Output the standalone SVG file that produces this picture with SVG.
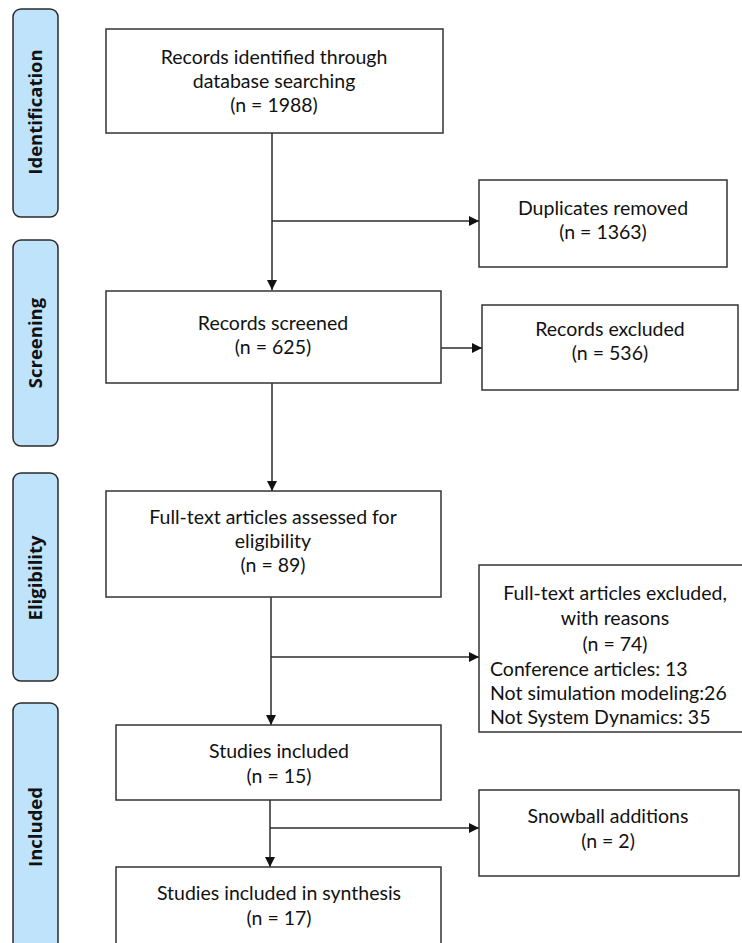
<svg xmlns="http://www.w3.org/2000/svg" width="742" height="943" viewBox="0 0 742 943">
<style>
.stage{fill:#bfe3fb;stroke:#2b2b2b;stroke-width:1.5}
.stxt{font-family:"Open Sans","DejaVu Sans",sans-serif;font-weight:bold;font-size:18.5px;fill:#111;text-anchor:middle}
.box{fill:#fff;stroke:#333;stroke-width:1.5}
.t{font-family:Lato,"Liberation Sans",sans-serif;font-size:19.5px;fill:#111;text-anchor:middle}
.tl{font-family:Lato,"Liberation Sans",sans-serif;font-size:19.5px;fill:#111}
.ln{stroke:#2b2b2b;stroke-width:1.5;fill:none}
</style>
<defs>
<marker id="ah" markerWidth="10" markerHeight="10" refX="10" refY="5" orient="auto" markerUnits="userSpaceOnUse">
<path d="M0,0 L10,5 L0,10 z" fill="#111"/>
</marker>
</defs>
<rect width="742" height="943" fill="#fff"/>
<g id="stage-identification"><rect class="stage" x="13" y="9" width="45" height="208" rx="8"/><text class="stxt" transform="translate(42,112) rotate(-90)">Identification</text></g>
<g id="stage-screening"><rect class="stage" x="13" y="240" width="45" height="206" rx="8"/><text class="stxt" transform="translate(42,343) rotate(-90)">Screening</text></g>
<g id="stage-eligibility"><rect class="stage" x="13" y="473" width="45" height="208" rx="8"/><text class="stxt" transform="translate(42,578) rotate(-90)">Eligibility</text></g>
<g id="stage-included"><rect class="stage" x="13" y="703" width="45" height="260" rx="8"/><text class="stxt" transform="translate(42,827) rotate(-90)">Included</text></g>

<g id="connectors">
<line class="ln" x1="272" y1="133" x2="272" y2="290" marker-end="url(#ah)"/>
<line class="ln" x1="272" y1="221" x2="479" y2="221" marker-end="url(#ah)"/>
<line class="ln" x1="272" y1="383" x2="272" y2="491" marker-end="url(#ah)"/>
<line class="ln" x1="272" y1="348" x2="482" y2="348" marker-end="url(#ah)"/>
<line class="ln" x1="271" y1="597" x2="271" y2="725" marker-end="url(#ah)"/>
<line class="ln" x1="271" y1="657" x2="479" y2="657" marker-end="url(#ah)"/>
<line class="ln" x1="270" y1="800" x2="270" y2="867" marker-end="url(#ah)"/>
<line class="ln" x1="270" y1="828" x2="479" y2="828" marker-end="url(#ah)"/>
</g>

<g id="n-identified"><rect class="box" x="106" y="29" width="337" height="104"/>
<text class="t" x="274" y="64">Records identified through</text>
<text class="t" x="274" y="88">database searching</text>
<text class="t" x="274" y="112">(n = 1988)</text></g>
<g id="n-duplicates"><rect class="box" x="479" y="180" width="248" height="87"/>
<text class="t" x="603" y="215">Duplicates removed</text>
<text class="t" x="603" y="239">(n = 1363)</text></g>
<g id="n-screened"><rect class="box" x="106" y="291" width="335" height="92"/>
<text class="t" x="273" y="330">Records screened</text>
<text class="t" x="273" y="354">(n = 625)</text></g>
<g id="n-excluded"><rect class="box" x="482" y="305" width="256" height="85"/>
<text class="t" x="610" y="336">Records excluded</text>
<text class="t" x="610" y="360">(n = 536)</text></g>
<g id="n-fulltext"><rect class="box" x="106" y="491" width="335" height="106"/>
<text class="t" x="273" y="524">Full-text articles assessed for</text>
<text class="t" x="273" y="548">eligibility</text>
<text class="t" x="273" y="572">(n = 89)</text></g>
<g id="n-ftexcluded"><rect class="box" x="479" y="565" width="270" height="167"/>
<text class="t" x="615" y="600">Full-text articles excluded,</text>
<text class="t" x="615" y="625">with reasons</text>
<text class="t" x="615" y="651">(n = 74)</text>
<text class="tl" x="490" y="676">Conference articles: 13</text>
<text class="tl" x="490" y="700">Not simulation modeling:26</text>
<text class="tl" x="490" y="724">Not System Dynamics: 35</text></g>
<g id="n-studies"><rect class="box" x="116" y="725" width="325" height="75"/>
<text class="t" x="279" y="758">Studies included</text>
<text class="t" x="279" y="783">(n = 15)</text></g>
<g id="n-snowball"><rect class="box" x="479" y="790" width="260" height="86"/>
<text class="t" x="608" y="823">Snowball additions</text>
<text class="t" x="608" y="848">(n = 2)</text></g>
<g id="n-synthesis"><rect class="box" x="116" y="867" width="325" height="90"/>
<text class="t" x="279" y="900">Studies included in synthesis</text>
<text class="t" x="279" y="925">(n = 17)</text></g>
</svg>
